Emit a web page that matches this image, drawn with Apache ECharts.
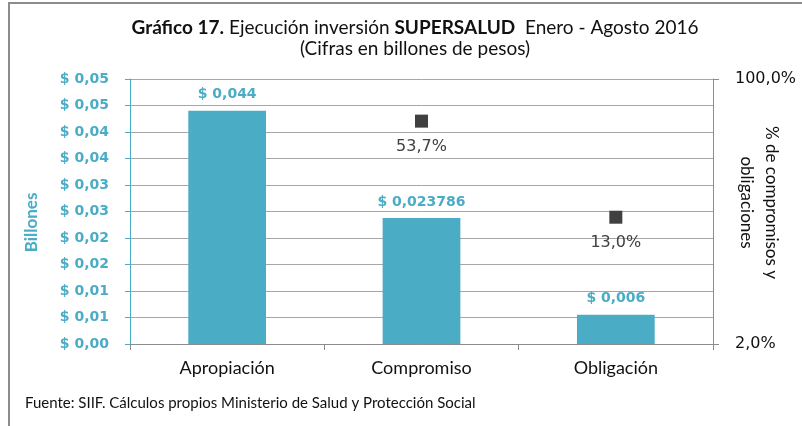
<!DOCTYPE html>
<html>
<head>
<meta charset="utf-8">
<script src="https://cdn.jsdelivr.net/npm/echarts@6/dist/echarts.min.js"></script>
<style>
  html, body { margin: 0; padding: 0; background: #fff; }
  #chart { width: 802px; height: 426px; }
</style>
</head>
<body>
<div id="chart"></div>
<script>
const categories = ['Apropiación', 'Compromiso', 'Obligación']
const montos = [0.044, 0.023786, 0.0055]          // billones de pesos
const montoLabels = ['$ 0,044', '$ 0,023786', '$ 0,006']
const porcentajes = [null, 53.7, 13.0]             // % de compromisos y obligaciones
const yTickLabels = ['$ 0,00', '$ 0,01', '$ 0,01', '$ 0,02', '$ 0,02', '$ 0,03',
  '$ 0,03', '$ 0,04', '$ 0,04', '$ 0,05', '$ 0,05']
const pctTicks = [2, 100]
const pctTickLabels = ['2,0%', '100,0%']

const aqua = '#4bacc6'
const chart = echarts.init(document.getElementById('chart'))

chart.setOption({
  animation: false,
  title: {
    text: '{b|Gráfico 17.} Ejecución inversión {b|SUPERSALUD}  Enero - Agosto 2016\n(Cifras en billones de pesos)',
    left: 410,
    top: 12,
    textAlign: 'center',
    textStyle: {
      fontFamily: 'Lato',
      fontSize: 19,
      fontWeight: 'normal',
      color: '#111',
      lineHeight: 21,
      rich: {
        b: { fontFamily: 'Lato', fontSize: 19, fontWeight: 'bold', color: '#111' }
      }
    }
  },
  graphic: [{
    type: 'rect',
    shape: { x: 9, y: 3, width: 900, height: 600 },
    style: { fill: 'none', stroke: '#8c8c8c', lineWidth: 2 },
    silent: true
  }, {
    type: 'text',
    left: 25,
    top: 396,
    style: {
      text: 'Fuente: SIIF. Cálculos propios Ministerio de Salud y Protección Social',
      font: '15px Lato',
      fill: '#111'
    }
  }],
  grid: { left: 130, right: 89, top: 79, bottom: 82, outerBoundsMode: 'none' },
  xAxis: {
    type: 'category',
    data: categories,
    axisLine: { lineStyle: { color: '#8c8c8c' } },
    axisTick: { show: true, length: 6, lineStyle: { color: '#8c8c8c' } },
    axisLabel: { fontFamily: 'Lato', fontSize: 18, color: '#111', margin: 15 }
  },
  yAxis: [{
    type: 'value',
    min: 0,
    max: 0.05,
    interval: 0.005,
    name: 'Billones',
    nameLocation: 'middle',
    nameGap: 90,
    nameRotate: 90,
    nameMoveOverlap: false,
    nameTextStyle: {
      fontFamily: 'Lato', fontSize: 17, fontWeight: 'bold', color: aqua,
      padding: [0, 22, 0, 0]
    },
    axisLine: { show: true, lineStyle: { color: aqua } },
    axisTick: { show: true, length: 5, lineStyle: { color: aqua } },
    axisLabel: {
      formatter: (v, i) => yTickLabels[i],
      fontFamily: 'DejaVu Sans',
      fontWeight: 'bold',
      fontSize: 14,
      color: aqua,
      margin: 21
    },
    splitLine: { lineStyle: { color: '#a6a6a6', width: 1 } }
  }, {
    type: 'log',
    min: 2,
    max: 100,
    position: 'right',
    name: '% de compromisos y\nobligaciones',
    nameLocation: 'middle',
    nameGap: 21,
    nameRotate: -90,
    nameMoveOverlap: false,
    nameTextStyle: {
      fontFamily: 'Lato', fontSize: 17, color: '#111', lineHeight: 25,
      padding: [0, 18, 0, 0]
    },
    axisLine: { show: true, lineStyle: { color: '#8c8c8c' } },
    axisTick: { show: true, length: 6, customValues: pctTicks, lineStyle: { color: '#8c8c8c' } },
    axisLabel: {
      customValues: pctTicks,
      formatter: v => pctTickLabels[v < 10 ? 0 : 1],
      fontFamily: 'DejaVu Sans',
      fontSize: 16,
      color: '#111',
      margin: 22
    },
    splitLine: { show: false }
  }],
  series: [{
    type: 'bar',
    data: montos,
    barWidth: '40%',
    itemStyle: { color: aqua },
    label: {
      show: true,
      position: 'top',
      distance: 9,
      formatter: p => montoLabels[p.dataIndex],
      fontFamily: 'DejaVu Sans',
      fontWeight: 'bold',
      fontSize: 14,
      color: aqua
    }
  }, {
    type: 'scatter',
    yAxisIndex: 1,
    data: porcentajes,
    symbol: 'rect',
    symbolSize: 13,
    itemStyle: { color: '#404040', opacity: 1 },
    label: {
      show: true,
      position: 'bottom',
      distance: 11,
      formatter: p => p.value.toFixed(1).replace('.', ',') + '%',
      fontFamily: 'DejaVu Sans',
      fontSize: 16,
      color: '#404040'
    }
  }]
})
</script>
</body>
</html>
